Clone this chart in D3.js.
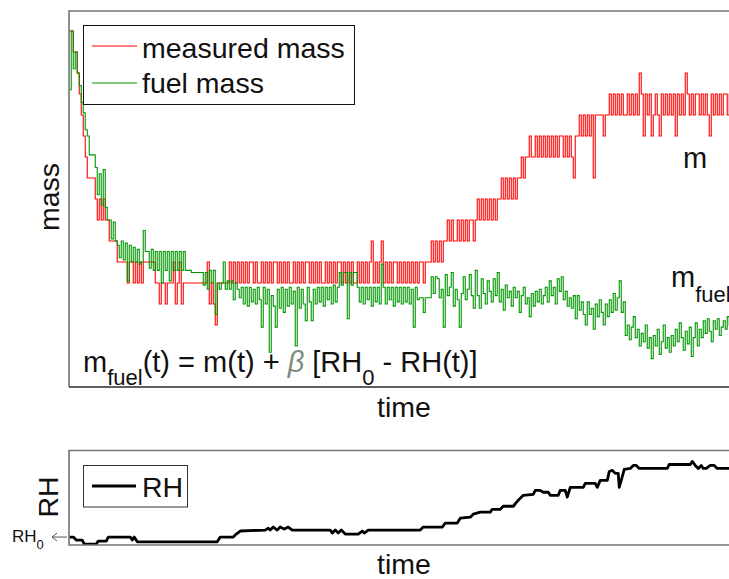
<!DOCTYPE html>
<html>
<head>
<meta charset="utf-8">
<script src="https://cdn.jsdelivr.net/npm/d3@7"></script>
<style>
  html, body { margin: 0; padding: 0; background: #fff; }
  svg { display: block; }
  text { font-family: "Liberation Sans", Arial, sans-serif; fill: #111; }
</style>
</head>
<body>
<svg id="fig" width="729" height="579"></svg>
<script>
// Measured mass, in balance-resolution steps, one sample per time step
const measuredMass = [
  12,12,11,11,10,9,8,7,6,5,
  5,5,5,4,3,4,3,4,3,3,
  2,2,2,2,1,1,1,1,1,0,
  1,1,0,1,0,1,0,1,1,1,
  1,1,1,0,0,-1,0,0,-1,0,
  0,0,1,-1,0,1,-1,0,0,0,
  0,0,0,0,0,0,0,0,0,1,
  -1,0,-1,-2,0,0,0,0,0,0,
  1,0,1,0,1,0,1,0,1,0,
  1,1,0,1,0,0,1,0,1,0,
  1,0,1,1,0,1,0,1,0,1,
  0,0,1,0,1,0,1,0,1,1,
  0,1,0,1,0,1,0,0,1,0,
  1,0,1,0,1,1,0,1,0,1,
  0,1,0,0,1,0,1,0,1,0,
  1,2,0,1,0,1,2,0,1,0,
  1,0,1,1,0,1,0,1,0,1,
  0,1,0,1,0,1,1,0,1,1,
  1,2,1,2,1,2,1,2,2,3,
  2,3,2,2,3,2,3,2,3,2,
  3,3,2,3,4,3,4,3,4,3,
  4,3,4,3,4,4,5,4,5,4,
  5,4,5,4,5,5,6,5,6,6,
  7,6,6,7,6,7,6,7,6,7,
  6,7,6,7,6,7,7,6,7,6,
  7,6,5,7,7,8,7,8,7,8,
  7,8,5,8,8,8,8,7,8,8,
  9,8,9,8,9,8,9,8,8,9,
  8,9,8,9,8,10,9,7,9,8,
  9,7,8,9,8,7,9,8,9,8,
  9,8,9,7,9,8,9,8,10,9,
  8,9,8,9,9,8,9,8,9,8,
  7,9,8,9,8,9,8,9,9,8,
  9,8,9,8,9
];

// Fuel mass (humidity-corrected), same units and time steps
const fuelMass = [
  9.2,12.0,10.2,11.0,10.0,9.4,8.6,8.1,7.3,7.0,
  6.1,6.1,6.1,5.5,4.2,5.2,3.7,5.4,3.6,3.0,
  3.0,2.1,2.9,2.0,1.8,1.2,2.0,1.1,1.9,0.1,
  1.8,1.0,1.7,1.0,1.6,0.9,1.0,2.5,1.5,1.5,
  0.7,1.6,0.6,1.5,0.6,1.5,0.0,1.5,0.6,1.5,
  0.1,1.5,0.6,1.5,0.6,1.5,0.6,1.5,0.6,0.6,
  0.6,0.5,0.5,0.5,0.5,0.5,0.5,-0.1,0.5,-0.3,
  0.6,0.0,0.6,-1.5,0.0,-0.3,0.0,1.0,-0.3,0.1,
  -0.3,0.1,-0.8,0.0,-0.3,-0.7,-0.2,
  -1.0,-0.2,-1.1,-0.2,-0.9,-0.3,-1.0,-0.2,-0.8,-2.1,
  -0.2,-1.0,-0.3,-3.3,-0.6,-1.1,-2.1,-0.3,-1.2,-0.2,
  -1.4,-0.3,-1.1,-0.2,-1.0,-0.4,-3.0,-0.2,-1.2,-0.3,
  -1.0,-1.8,-0.2,-0.9,-1.8,-0.3,-1.0,-0.2,-0.9,-0.2,
  -1.1,-0.2,-0.8,-0.2,-1.0,-0.1,-0.9,-0.2,0.5,-0.1,
  0.5,0.5,-1.7,0.5,-0.1,0.5,0.5,-0.2,-0.9,-0.2,
  -1.0,-0.2,-0.8,-0.2,-1.1,-0.2,-0.9,-0.2,-1.0,0.9,
  -0.2,-1.0,-0.2,-0.8,-0.2,-1.1,-0.2,-0.9,-0.2,-1.0,
  -0.2,-0.9,-0.2,-1.0,-0.3,-2.1,-0.2,-0.8,-0.7,-0.7,
  -1.4,-0.7,-0.7,-0.7,0.3,-0.5,0.3,0.2,-0.7,-0.3,
  -2.1,
  0.4,-0.6,-0.2,0.5,-1.1,-0.3,-0.8,-2.1,-0.5,0.3,
  -0.8,-0.3,0.4,-0.6,-1.2,0.6,-0.6,-1.2,0.2,-0.5,
  -1.0,0.1,-0.4,-0.9,0.2,-0.6,0.5,-0.9,-0.3,-1.3,
  -0.1,-0.7,-0.4,-1.1,-0.2,-0.7,-0.4,-1.4,-0.6,-0.2,
  -1.0,-0.7,-1.6,-0.5,-1.1,-0.4,-0.9,-0.3,-1.0,-0.6,
  -0.2,-0.9,0.1,-0.6,-0.2,-1.0,0.2,-0.4,0.3,-0.8,
  -0.4,-1.1,-0.7,-1.2,-0.6,-1.7,-0.6,-1.3,-0.9,-1.5,
  -2.0,-0.9,-1.5,-1.2,-2.2,-1.0,-1.6,-0.8,-1.4,-2.0,
  -1.0,-1.6,-0.8,-1.4,-0.5,-1.3,-0.7,0.1,-1.4,-0.9,
  -2.5,-2.0,-2.7,-2.1,-1.6,-2.6,-2.2,-3.0,-2.4,-2.8,
  -2.0,-3.1,-2.6,-3.6,-2.5,-3.0,-2.2,-3.4,-2.8,-2.0,
  -3.1,-2.6,-3.3,-2.5,-3.0,-2.2,-2.8,-1.9,-2.6,-3.2,
  -2.3,-2.9,-2.1,-3.5,-2.6,-1.9,-3.0,-2.2,-2.6,-1.8,
  -2.4,-1.7,-2.3,-2.8,-1.8,-2.2,-1.7,-2.5,-2.1,-1.8,
  -2.2,-1.6,-2.0,-1.7,-2.3,-1.8,-1.9
];

// Relative humidity (%) at selected times (same time steps as the mass samples)
const rhTime = [
  0,2,3.5,6.5,7.5,13.5,14.5,18.5,19.5,30.5,
  31.5,32.5,34,74,75.5,82,83.5,85.5,98,99.5,
  100.5,102,104,105.5,107.5,109.5,111.5,130.5,131.5,133,
  134.5,136,138,144.5,146.5,147.5,149.5,175.5,177,186.5,
  188,194,195.5,200.5,202,205.5,210.5,211.5,215.5,217,
  222,224.5,227,232,233,235.5,237,239.5,240.5,244.5,
  245.5,248,249,250.5,257,258,263,264,265.5,269,
  270,271.5,273,274.5,275,276,277.5,280.5,282,283.5,
  285,299,300,310.5,311.5,313,314.5,316,317,318.5,
  320.5,322.5,324,334
];
const rhValue = [
  34.2,34.2,32.6,32.6,30.5,30.5,32.1,32.1,34.2,34.2,
  32.6,34.2,31.7,31.7,34.2,34.2,35.8,37.4,37.9,38.9,
  37.9,39.5,37.9,39.5,38.4,39.5,37.9,37.9,36.3,37.9,
  36.3,37.9,35.8,35.8,37.4,36.3,37.9,37.9,39.5,39.5,
  41.6,41.6,44.2,44.7,46.3,47.4,47.4,48.9,48.9,50.5,
  50.5,53.7,56.3,56.8,58.9,58.9,57.9,57.9,56.3,56.3,
  58.9,58.9,55.3,60.5,60.5,62.6,62.6,60.5,64.2,64.2,
  68.9,69.5,67.9,67.9,60.5,64.2,70.0,70.5,72.1,72.1,
  70.5,70.5,72.6,72.6,74.2,72.1,70.5,72.1,70.5,70.5,
  72.1,72.1,70.5,70.5
];
const rh0 = 34.2;

const seriesNames = ["measured mass", "fuel mass"];
const seriesColors = ["#ff0000", "#009600"];

const svg = d3.select("#fig");
const N = measuredMass.length;

// Panel geometry
const massPanel = { x0: 69, x1: 760, y0: 11, y1: 387 };
const rhPanel = { x0: 69, x1: 760, y0: 450.5, y1: 545 };

const x = d3.scaleLinear().domain([0, N - 1]).range([69.25, 737.25]);
const yMass = d3.scaleLinear().domain([-4.952, 12.952]).range([massPanel.y1, massPanel.y0]);
const yRH = d3.scaleLinear().domain([30, 80]).range([rhPanel.y1, rhPanel.y0]);

const defs = svg.append("defs");
defs.append("clipPath").attr("id", "clipTop").append("rect")
  .attr("x", massPanel.x0).attr("y", massPanel.y0)
  .attr("width", massPanel.x1 - massPanel.x0).attr("height", massPanel.y1 - massPanel.y0);
defs.append("clipPath").attr("id", "clipBot").append("rect")
  .attr("x", rhPanel.x0).attr("y", rhPanel.y0)
  .attr("width", rhPanel.x1 - rhPanel.x0).attr("height", rhPanel.y1 - rhPanel.y0);

// ---- Top panel: mass traces ----
const massLine = d3.line()
  .x((d, i) => x(i))
  .y(d => yMass(d))
  .curve(d3.curveStepAfter);

const traces = svg.append("g").attr("clip-path", "url(#clipTop)");
[measuredMass, fuelMass].forEach((s, k) => {
  traces.append("path")
    .datum(s)
    .attr("d", massLine)
    .attr("fill", "none")
    .attr("stroke", seriesColors[k])
    .attr("stroke-width", 1.1);
});

// Axes box of the top panel
svg.append("path")
  .attr("d", `M${massPanel.x1},${massPanel.y0}H${massPanel.x0}V${massPanel.y1}`)
  .attr("fill", "none").attr("stroke", "#747474").attr("stroke-width", 1.6);
svg.append("line")
  .attr("x1", massPanel.x0).attr("x2", massPanel.x1)
  .attr("y1", massPanel.y1).attr("y2", massPanel.y1)
  .attr("stroke", "#2a2a2a").attr("stroke-width", 1.6);

// Legend
const leg = svg.append("g");
leg.append("rect").attr("x", 83.5).attr("y", 25.5).attr("width", 271).attr("height", 79)
  .attr("fill", "#fff").attr("stroke", "#111").attr("stroke-width", 1);
seriesNames.forEach((name, k) => {
  const ly = [46, 83][k];
  leg.append("line").attr("x1", 92).attr("x2", 137).attr("y1", ly).attr("y2", ly)
    .attr("stroke", seriesColors[k]).attr("stroke-width", 1.2);
  leg.append("text").attr("x", 142).attr("y", [58, 93][k])
    .attr("font-size", 28.5).text(name);
});

// Axis labels
svg.append("text").attr("transform", "translate(58.5,197) rotate(-90)")
  .attr("text-anchor", "middle").attr("font-size", 28.5).text("mass");
svg.append("text").attr("x", 404).attr("y", 417)
  .attr("text-anchor", "middle").attr("font-size", 28.5).text("time");

// Formula
const f = svg.append("text").attr("x", 83).attr("y", 372).attr("font-size", 29);
f.append("tspan").text("m");
f.append("tspan").attr("font-size", 22).attr("dy", 13).text("fuel");
f.append("tspan").attr("dy", -13).text("(t) = m(t) + ");
f.append("tspan").attr("font-style", "italic").style("fill", "#7f8c80").text("\u03B2");
f.append("tspan").text(" [RH");
f.append("tspan").attr("font-size", 22).attr("dy", 13).text("0");
f.append("tspan").attr("dy", -13).text(" - RH(t)]");

// Curve labels
svg.append("text").attr("x", 683).attr("y", 168).attr("font-size", 29).text("m");
const mf = svg.append("text").attr("x", 671).attr("y", 287).attr("font-size", 29);
mf.append("tspan").text("m");
mf.append("tspan").attr("font-size", 22).attr("dy", 15).text("fuel");

// ---- Bottom panel: relative humidity ----
const rhLine = d3.line()
  .x((d, i) => x(rhTime[i]))
  .y(d => yRH(d));

svg.append("g").attr("clip-path", "url(#clipBot)")
  .append("path")
  .datum(rhValue)
  .attr("d", rhLine)
  .attr("fill", "none")
  .attr("stroke", "#000")
  .attr("stroke-width", 2.8)
  .attr("stroke-linejoin", "round");

svg.append("path")
  .attr("d", `M${rhPanel.x1},${rhPanel.y0}H${rhPanel.x0}V${rhPanel.y1}H${rhPanel.x1}`)
  .attr("fill", "none").attr("stroke", "#747474").attr("stroke-width", 1.6);

// RH legend
const leg2 = svg.append("g");
leg2.append("rect").attr("x", 83.5).attr("y", 465.5).attr("width", 104).attr("height", 41.5)
  .attr("fill", "#fff").attr("stroke", "#333").attr("stroke-width", 1);
leg2.append("line").attr("x1", 92).attr("x2", 136).attr("y1", 486).attr("y2", 486)
  .attr("stroke", "#000").attr("stroke-width", 2.8);
leg2.append("text").attr("x", 142).attr("y", 497).attr("font-size", 28.5).text("RH");

svg.append("text").attr("transform", "translate(58,497) rotate(-90)")
  .attr("text-anchor", "middle").attr("font-size", 28.5).text("RH");
svg.append("text").attr("x", 404).attr("y", 574)
  .attr("text-anchor", "middle").attr("font-size", 28.5).text("time");

// Reference humidity marker
const y0 = yRH(rh0);
const r0 = svg.append("text").attr("x", 12).attr("y", y0 + 4.5).attr("font-size", 17);
r0.append("tspan").text("RH");
r0.append("tspan").attr("font-size", 13).attr("dy", 7).text("0");
svg.append("path")
  .attr("d", `M67,${y0}H52M57,${y0 - 4}L52,${y0}L57,${y0 + 4}`)
  .attr("fill", "none").attr("stroke", "#555").attr("stroke-width", 1);
</script>
</body>
</html>
